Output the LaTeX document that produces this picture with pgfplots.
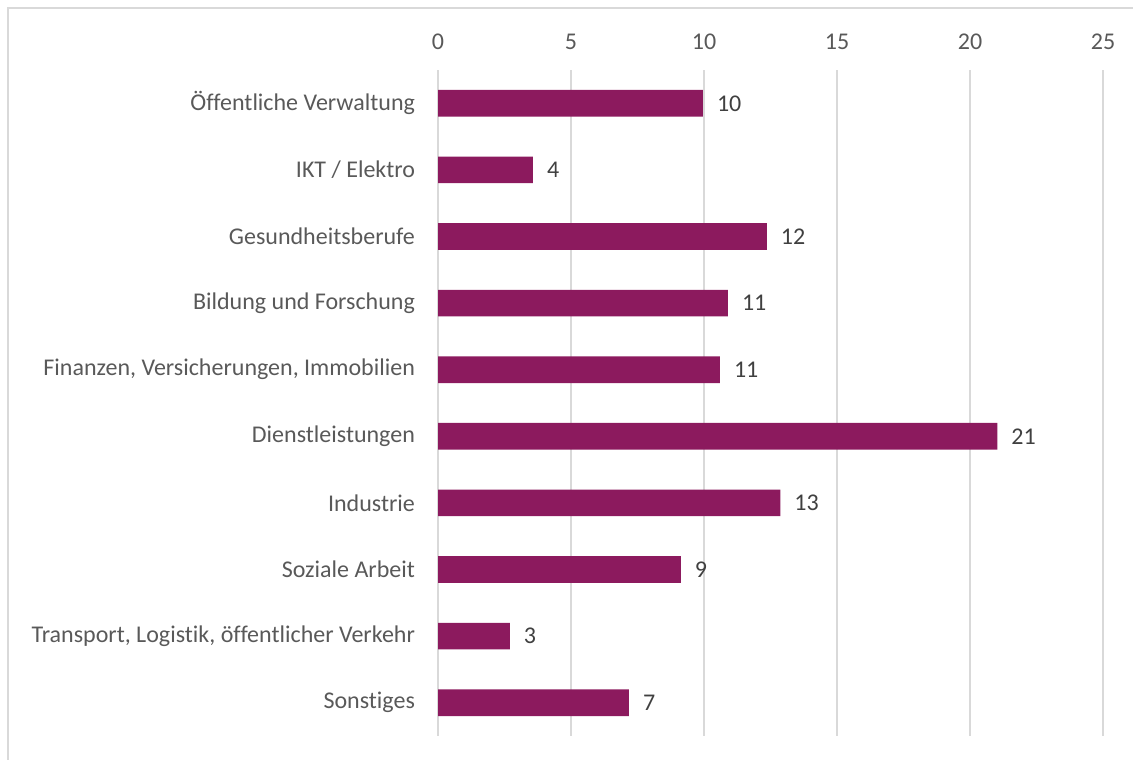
\documentclass[border=0pt]{standalone}
\usepackage{fontspec}
\setmainfont{Carlito}[Ligatures=NoCommon]
\usepackage{pgfplots}
\pgfplotsset{compat=1.18}
\definecolor{barcol}{HTML}{8C1A5E}
\definecolor{labgray}{HTML}{595959}
\definecolor{valgray}{HTML}{404040}
\definecolor{gridgray}{HTML}{D9D9D9}
\newcommand{\lab}{\fontsize{12}{14}\selectfont}

\begin{document}
\begin{tikzpicture}
% page = 1133 x 759 px, 1 px = 0.5pt
\useasboundingbox (0pt,0pt) rectangle (566.5pt,-379.5pt);
\draw[gridgray, line width=1pt] (4pt,-400pt) -- (4pt,-4pt) -- (600pt,-4pt);
\begin{axis}[
    at={(219pt,-368pt)}, anchor=south west,
    scale only axis, width=332.5pt, height=333pt,
    xbar, bar width=0.4,
    xmin=0, xmax=25, ymin=-0.5, ymax=9.5,
    y dir=reverse,
    xtick={0,5,...,25},
    ytick={0,...,9},
    yticklabels={Öffentliche Verwaltung, IKT / Elektro, Gesundheitsberufe,
        Bildung und Forschung, {Finanzen, Versicherungen, Immobilien},
        Dienstleistungen, Industrie, Soziale Arbeit,
        {Transport, Logistik, öffentlicher Verkehr}, Sonstiges},
    xticklabel pos=upper,
    axis line style={draw=none},
    major tick length=0pt,
    xmajorgrids, grid style={gridgray, line width=1pt},
    ticklabel style={font=\lab, text=labgray},
    xticklabel style={yshift=6.5pt},
    yticklabel style={xshift=-8pt},
    /pgf/number format/assume math mode=true,
    point meta=x,
    nodes near coords,
    nodes near coords style={font=\lab, text=valgray, anchor=west, xshift=3.5pt,
        /pgf/number format/fixed, /pgf/number format/precision=0},
]
\addplot[fill=barcol, draw=none] coordinates {
    (9.96,0)
    (3.57,1)
    (12.36,2)
    (10.9,3)
    (10.6,4)
    (21.03,5)
    (12.87,6)
    (9.13,7)
    (2.7,8)
    (7.18,9)
};
\end{axis}
\end{tikzpicture}
\end{document}
